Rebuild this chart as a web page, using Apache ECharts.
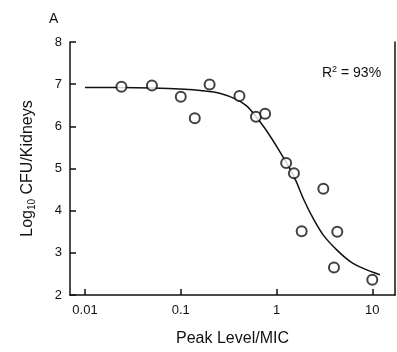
<!DOCTYPE html>
<html>
<head>
<meta charset="utf-8">
<script src="https://cdn.jsdelivr.net/npm/echarts@6/dist/echarts.min.js"></script>
<style>
  html, body { margin: 0; padding: 0; background: #fff; }
  #chart { width: 397px; height: 352px; }
</style>
</head>
<body>
<div id="chart"></div>
<script>
// 观测点 (Peak/MIC, log10 CFU)
const peakMic = [0.024, 0.05, 0.1, 0.14, 0.2, 0.41, 0.61, 0.76, 1.26, 1.52, 1.83, 3.08, 4.31, 3.98, 10]
const logCfu = [6.94, 6.97, 6.7, 6.19, 6.99, 6.72, 6.23, 6.3, 5.13, 4.89, 3.51, 4.52, 3.5, 2.65, 2.36]

// 拟合曲线
const fitX = [0.01, 0.023, 0.05, 0.11, 0.16, 0.26, 0.38, 0.49, 0.6, 0.79, 1.09, 1.38, 1.6, 1.9, 2.42, 3.08, 4.25, 5.85, 8.05, 12]
const fitY = [6.92, 6.92, 6.91, 6.88, 6.85, 6.78, 6.64, 6.48, 6.25, 5.89, 5.39, 4.99, 4.7, 4.29, 3.81, 3.42, 3.07, 2.8, 2.63, 2.48]

const xTickLabels = ['0.01', '0.1', '1', '10']
const yMin = 2
const yMax = 8

const ink = '#111'
const font = 'Liberation Sans, Arial, sans-serif'

const chart = echarts.init(document.getElementById('chart'), null, { renderer: 'canvas' })

const option = {
  animation: false,
  backgroundColor: '#fff',
  textStyle: { fontFamily: font, color: ink },
  grid: { left: 70, right: 2, top: 42, bottom: 55 },
  title: [
    {
      text: 'A',
      left: 44,
      top: 7,
      textStyle: { fontSize: 14, fontWeight: 'normal', color: ink, fontFamily: font }
    },
    {
      text: '{a|R}{s|2}{a| = 93%}',
      left: 317,
      top: 60,
      textStyle: {
        fontWeight: 'normal',
        rich: {
          a: { fontSize: 14, fontWeight: 'normal', color: ink, fontFamily: font },
          s: { fontSize: 9, fontWeight: 'normal', color: ink, fontFamily: font, verticalAlign: 'top', padding: [0, 0, 8, 0] }
        }
      }
    }
  ],
  xAxis: {
    type: 'log',
    logBase: 10,
    min: 0.00697,
    max: 17.26,
    name: 'Peak Level/MIC',
    nameLocation: 'middle',
    nameGap: 36,
    nameTextStyle: { fontSize: 16, color: ink, fontFamily: font },
    axisLine: { lineStyle: { color: ink, width: 1.5 } },
    axisTick: { inside: true, length: 6, lineStyle: { color: ink, width: 1.5 } },
    axisLabel: {
      margin: 9,
      fontSize: 13,
      color: ink,
      showMinLabel: false,
      showMaxLabel: false,
      formatter: (v) => {
        const s = String(+v.toPrecision(3))
        return xTickLabels.includes(s) ? s : ''
      }
    },
    splitLine: { show: false },
    minorTick: { show: false }
  },
  yAxis: [
    {
      type: 'value',
      min: yMin,
      max: yMax,
      interval: 1,
      name: '{a|Log}{s|10}{a| CFU/Kidneys}',
      nameLocation: 'middle',
      nameGap: 33,
      nameTextStyle: {
        rich: {
          a: { fontSize: 16, color: ink, fontFamily: font },
          s: { fontSize: 10, color: ink, fontFamily: font, verticalAlign: 'bottom', padding: [8, 0, 0, 0] }
        }
      },
      axisLine: { show: true, lineStyle: { color: ink, width: 1.5 } },
      axisTick: { inside: true, length: 6, lineStyle: { color: ink, width: 1.5 } },
      axisLabel: { margin: 8, fontSize: 13, color: ink },
      splitLine: { show: false }
    },
    {
      type: 'value',
      position: 'right',
      min: yMin,
      max: yMax,
      axisLine: { show: true, lineStyle: { color: ink, width: 1.5 } },
      axisTick: { show: false },
      axisLabel: { show: false },
      splitLine: { show: false }
    }
  ],
  series: [
    {
      type: 'line',
      data: fitX.map((x, i) => [x, fitY[i]]),
      smooth: 0.3,
      showSymbol: false,
      symbol: 'none',
      lineStyle: { color: ink, width: 1.5 },
      silent: true,
      z: 2
    },
    {
      type: 'scatter',
      data: peakMic.map((x, i) => [x, logCfu[i]]),
      symbol: 'emptyCircle',
      symbolSize: 10,
      itemStyle: { color: ink, borderWidth: 1.8 },
      z: 3
    }
  ]
}

chart.setOption(option)
</script>
</body>
</html>
